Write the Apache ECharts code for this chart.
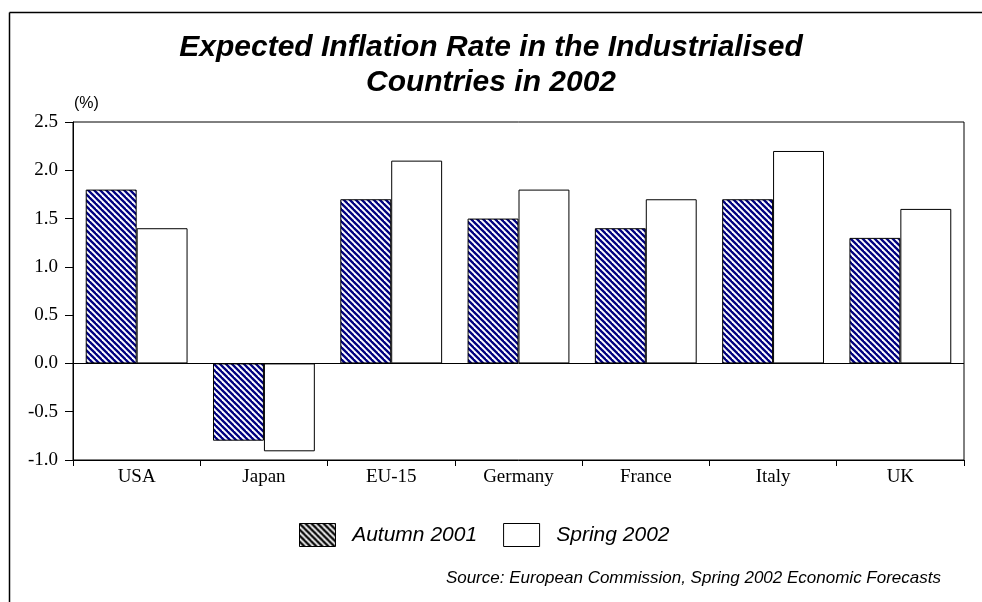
<!DOCTYPE html>
<html>
<head>
<meta charset="utf-8">
<script src="https://cdn.jsdelivr.net/npm/echarts@6/dist/echarts.min.js"></script>
<style>
html,body{margin:0;padding:0;background:#fff;}
#chart{width:982px;height:602px;}
</style>
</head>
<body>
<div id="chart"></div>
<script>
const categories = ['USA', 'Japan', 'EU-15', 'Germany', 'France', 'Italy', 'UK'];
const autumn2001 = [1.8, -0.8, 1.7, 1.5, 1.4, 1.7, 1.3];
const spring2002 = [1.4, -0.91, 2.1, 1.8, 1.7, 2.2, 1.6];
const seriesNames = ['Autumn 2001', 'Spring 2002'];
const titleText = 'Expected Inflation Rate in the Industrialised\nCountries in 2002';
const unitText = '(%)';
const sourceText = 'Source: European Commission, Spring 2002 Economic Forecasts';

function stripe(color, w) {
  const s = 6;
  const c = document.createElement('canvas');
  c.width = s; c.height = s;
  const g = c.getContext('2d');
  g.fillStyle = '#fff';
  g.fillRect(0, 0, s, s);
  g.strokeStyle = color;
  g.lineWidth = w;
  for (let k = -1; k <= 1; k++) {
    g.beginPath();
    g.moveTo(k * s - 1, -1);
    g.lineTo(k * s + s + 1, s + 1);
    g.stroke();
  }
  return { image: c, repeat: 'repeat' };
}
const navyStripe = stripe('#000080', 2.3);
const blackStripe = stripe('#000000', 2.3);

const chart = echarts.init(document.getElementById('chart'), null, { renderer: 'canvas' });
chart.setOption({
  animation: false,
  backgroundColor: '#fff',
  title: {
    text: titleText,
    left: 'center',
    top: 25,
    textStyle: {
      fontFamily: 'Liberation Sans',
      fontStyle: 'italic',
      fontWeight: 'bold',
      fontSize: 30,
      lineHeight: 35,
      color: '#000'
    }
  },
  legend: {
    left: 294,
    top: 518,
    itemWidth: 36,
    itemHeight: 23,
    itemGap: 26,
    formatter: '  {name}',
    textStyle: { fontFamily: 'Liberation Sans', fontStyle: 'italic', fontSize: 21, color: '#000' },
    data: [
      { name: seriesNames[0], icon: 'rect', itemStyle: { color: blackStripe, borderColor: '#000', borderWidth: 1 } },
      { name: seriesNames[1], icon: 'rect', itemStyle: { color: '#fff', borderColor: '#000', borderWidth: 1 } }
    ]
  },
  grid: {
    left: 73, right: 18, top: 122, bottom: 142,
    show: true, borderColor: '#000', borderWidth: 1, backgroundColor: 'transparent'
  },
  xAxis: {
    type: 'category',
    data: categories,
    axisLine: { onZero: false, lineStyle: { color: '#000', width: 1 } },
    axisTick: { show: true, length: 6, lineStyle: { color: '#000' } },
    axisLabel: { margin: 8, fontFamily: 'Liberation Serif', fontSize: 19, color: '#000' },
    splitLine: { show: false }
  },
  yAxis: {
    type: 'value',
    min: -1, max: 2.5, interval: 0.5,
    axisLine: { show: true, lineStyle: { color: '#000', width: 1 } },
    axisTick: { show: true, length: 8, lineStyle: { color: '#000' } },
    axisLabel: { margin: 15, fontFamily: 'Liberation Serif', fontSize: 19, color: '#000',
      formatter: v => v.toFixed(1) },
    splitLine: { show: false }
  },
  series: [
    {
      name: seriesNames[0], type: 'bar', data: autumn2001,
      barGap: '0%', barCategoryGap: '20%',
      itemStyle: { color: navyStripe, borderColor: '#000', borderWidth: 1 },
      markLine: {
        silent: true, symbol: 'none', label: { show: false },
        lineStyle: { color: '#000', width: 1, type: 'solid' },
        data: [{ yAxis: 0 }]
      }
    },
    {
      name: seriesNames[1], type: 'bar', data: spring2002,
      itemStyle: { color: '#fff', borderColor: '#000', borderWidth: 1 }
    }
  ],
  graphic: [
    { type: 'line', shape: { x1: 9.5, y1: 12.5, x2: 982, y2: 12.5 }, style: { stroke: '#000', lineWidth: 1.5 } },
    { type: 'line', shape: { x1: 9.5, y1: 12.5, x2: 9.5, y2: 602 }, style: { stroke: '#000', lineWidth: 1.5 } },
    { type: 'text', left: 74, top: 96, style: { text: unitText, font: '16px "Liberation Sans"', fill: '#000' } },
    { type: 'text', right: 41, top: 570, style: { text: sourceText, font: 'italic 17px "Liberation Sans"', fill: '#000' } }
  ]
});
</script>
</body>
</html>
